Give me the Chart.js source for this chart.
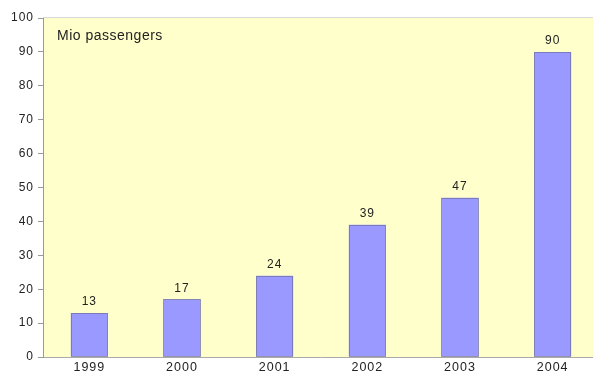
<!DOCTYPE html>
<html lang="en">
<head>
    <meta charset="UTF-8">
    <title>Mio passengers</title>
    <script src="https://cdn.jsdelivr.net/npm/chart.js"></script>
    <style>
        html, body { margin: 0; padding: 0; overflow: hidden; background: #fff; }
        #wrap { width: 599px; height: 376px; }
    </style>
</head>
<body>
    <div id="wrap"><canvas id="passengerChart" width="599" height="376"></canvas></div>

    <script>
        // chart values
        const years = ['1999', '2000', '2001', '2002', '2003', '2004'];
        const passengers = [13, 17, 24, 39, 47, 90];
        const yTicks = [0, 10, 20, 30, 40, 50, 60, 70, 80, 90, 100];
        const boxLabel = 'Mio passengers';

        const fontFamily = '"Liberation Sans", Arial, sans-serif';

        // yellow plot area + top line, and a bit of letter spacing for the wide look
        const plotBackground = {
            id: 'plotBackground',
            beforeDraw(chart) {
                const { ctx, chartArea: a } = chart;
                ctx.save();
                ctx.fillStyle = '#FFFFCC';
                ctx.fillRect(a.left, a.top, a.right - a.left, a.bottom - a.top);
                ctx.strokeStyle = '#d8d8d8';
                ctx.lineWidth = 1;
                ctx.beginPath();
                ctx.moveTo(a.left, a.top - 0.5);
                ctx.lineTo(a.right, a.top - 0.5);
                ctx.stroke();
                ctx.restore();
                ctx.letterSpacing = '1px';
            }
        };

        // dotted bar outlines, value labels above bars, caption inside the plot
        const barLabels = {
            id: 'barLabels',
            afterDatasetsDraw(chart) {
                const { ctx, chartArea: a } = chart;
                const bars = chart.getDatasetMeta(0).data;
                ctx.save();
                ctx.strokeStyle = '#5a5a78';
                ctx.lineWidth = 1;
                ctx.setLineDash([1, 1]);
                bars.forEach(bar => {
                    const x0 = Math.round(bar.x - bar.width / 2) + 0.5;
                    const x1 = Math.round(bar.x + bar.width / 2) - 0.5;
                    const y0 = Math.round(bar.y) + 0.5;
                    const y1 = Math.round(bar.base) - 0.5;
                    ctx.strokeRect(x0, y0, x1 - x0, y1 - y0);
                });
                ctx.setLineDash([]);

                ctx.letterSpacing = '1px';
                ctx.font = '12px ' + fontFamily;
                ctx.fillStyle = '#222';
                ctx.textAlign = 'center';
                ctx.textBaseline = 'bottom';
                bars.forEach((bar, i) => {
                    ctx.fillText(passengers[i], bar.x, bar.y - 5);
                });
                ctx.letterSpacing = '0.5px';
                ctx.font = '14px ' + fontFamily;
                ctx.textAlign = 'left';
                ctx.textBaseline = 'middle';
                ctx.fillText(boxLabel, a.left + 14, a.top + 18);
                ctx.restore();
            }
        };

        new Chart(document.getElementById('passengerChart'), {
            type: 'bar',
            data: {
                labels: years,
                datasets: [{
                    data: passengers,
                    backgroundColor: '#9999FF',
                    borderWidth: 0,
                    barPercentage: 0.4,
                    categoryPercentage: 1
                }]
            },
            options: {
                responsive: false,
                animation: false,
                layout: { padding: { top: 18, right: 0, left: 0, bottom: 0 } },
                plugins: {
                    legend: { display: false },
                    tooltip: { enabled: false }
                },
                scales: {
                    x: {
                        afterFit: s => { s.height = 19; },
                        grid: { display: false },
                        border: { color: '#aaaaaa', dash: [1, 1] },
                        ticks: {
                            color: '#222',
                            padding: -5,
                            font: { family: fontFamily, size: 12.5 }
                        }
                    },
                    y: {
                        min: 0,
                        max: 100,
                        afterFit: s => { s.width = 43; },
                        afterBuildTicks: s => { s.ticks = yTicks.map(v => ({ value: v })); },
                        grid: { drawOnChartArea: false, drawTicks: true, tickLength: 5, color: '#999999' },
                        border: { color: '#999999' },
                        ticks: {
                            color: '#222',
                            padding: 4,
                            font: { family: fontFamily, size: 12 }
                        }
                    }
                }
            },
            plugins: [plotBackground, barLabels]
        });
    </script>
</body>
</html>
